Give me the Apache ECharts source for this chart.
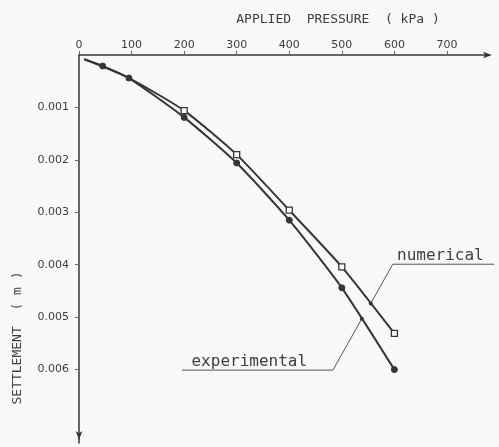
<!DOCTYPE html>
<html>
<head>
<meta charset="utf-8">
<script src="https://cdn.jsdelivr.net/npm/echarts@6/dist/echarts.min.js"></script>
<style>
html,body{margin:0;padding:0;background:#f9f9f7;}
#c{width:499px;height:447px;}
</style>
</head>
<body>
<div id="c"></div>
<script>
// Data
var expPressure = [10, 45, 95, 200, 300, 400, 500, 600];
var expSettlement = [0.00008, 0.00021, 0.00044, 0.00119, 0.00206, 0.00315, 0.00444, 0.0060];
var numPressure = [10, 95, 200, 300, 400, 500, 600];
var numSettlement = [0.00008, 0.00044, 0.00106, 0.00190, 0.00296, 0.00404, 0.00531];
var numMarked = [false, false, true, true, true, true, true];
var expMarked = [false, true, true, true, true, true, true, true];
var xTicks = [0, 100, 200, 300, 400, 500, 600, 700];
var yTicks = [0.001, 0.002, 0.003, 0.004, 0.005, 0.006];
var yTickLabels = ['0.001', '0.002', '0.003', '0.004', '0.005', '0.006'];
// annotation anchors in data units
var numNote = {text: 'numerical', leader: [555, 0.00474], join: [597, 0.00399], other: [790, 0.00399], textAt: [605, 0.00384]};
var expNote = {text: 'experimental', leader: [538, 0.00503], join: [483, 0.00601], other: [196, 0.00601], textAt: [214, 0.00586]};

var ink = '#353535';
function pairs(xs, ys, marked) {
  return xs.map(function (x, i) {
    var d = {value: [x, ys[i]]};
    if (!marked[i]) d.symbol = 'none';
    return d;
  });
}

var chart = echarts.init(document.getElementById('c'));
var option = {
  backgroundColor: '#f9f9f7',
  animation: false,
  grid: {left: 79, top: 55, width: 410, height: 388},
  xAxis: {
    type: 'value', position: 'top', min: 0, max: 780, interval: 100,
    axisLine: {show: true, lineStyle: {color: ink, width: 1.5}, symbol: ['none', 'arrow'], symbolSize: [5, 9], symbolOffset: [0, 3]},
    axisTick: {show: true, length: 4, lineStyle: {color: '#666'}, customValues: xTicks},
    axisLabel: {margin: 4, color: '#3c3c3c', fontFamily: 'DejaVu Sans', fontSize: 11, customValues: xTicks},
    splitLine: {show: false}
  },
  yAxis: {
    type: 'value', inverse: true, min: 0, max: 0.0074,
    axisLine: {show: true, lineStyle: {color: ink, width: 1.5}, symbol: ['arrow', 'none'], symbolSize: [5, 9], symbolOffset: [3, 0]},
    axisTick: {show: true, length: 4, lineStyle: {color: '#666'}, customValues: yTicks},
    axisLabel: {margin: 10, color: '#3c3c3c', fontFamily: 'DejaVu Sans', fontSize: 11,
      customValues: yTicks,
      formatter: function (v) { var i = yTicks.findIndex(function (t) { return Math.abs(t - v) < 1e-9; }); return i >= 0 ? yTickLabels[i] : ''; }},
    splitLine: {show: false}
  },
  series: [
    {
      name: 'numerical', type: 'line', smooth: 0.2,
      data: pairs(numPressure, numSettlement, numMarked),
      symbol: 'rect', symbolSize: 6, showAllSymbol: true,
      lineStyle: {color: ink, width: 2},
      itemStyle: {color: '#ffffff', borderColor: ink, borderWidth: 1.3},
      z: 3
    },
    {
      name: 'experimental', type: 'line', smooth: 0.2,
      data: pairs(expPressure, expSettlement, expMarked),
      symbol: 'circle', symbolSize: 6, showAllSymbol: true,
      lineStyle: {color: ink, width: 2},
      itemStyle: {color: ink, borderColor: ink, borderWidth: 1},
      z: 4
    }
  ]
};
chart.setOption(option);

function px(p) { return chart.convertToPixel({gridIndex: 0}, p); }
function noteGraphics(n) {
  var a = px(n.leader), b = px(n.join), c = px(n.other), t = px(n.textAt);
  return [
    {type: 'polyline', shape: {points: [a, b, c]}, style: {stroke: '#555', lineWidth: 1, fill: null}, z: 10},
    {type: 'circle', shape: {cx: a[0], cy: a[1], r: 2}, style: {fill: ink}, z: 10},
    {type: 'text', x: t[0], y: t[1], style: {text: n.text, fill: '#404040', font: '16px "DejaVu Sans Mono"', verticalAlign: 'middle'}, z: 10}
  ];
}
chart.setOption({
  graphic: [
    {type: 'text', x: 338, y: 20, style: {text: 'APPLIED  PRESSURE  ( kPa )', fill: '#404040', font: '13px "DejaVu Sans Mono"', align: 'center', verticalAlign: 'middle'}},
    {type: 'text', x: 18, y: 338, rotation: Math.PI / 2, style: {text: 'SETTLEMENT  ( m )', fill: '#404040', font: '13px "DejaVu Sans Mono"', align: 'center', verticalAlign: 'middle'}}
  ].concat(noteGraphics(numNote), noteGraphics(expNote))
});
</script>
</body>
</html>
